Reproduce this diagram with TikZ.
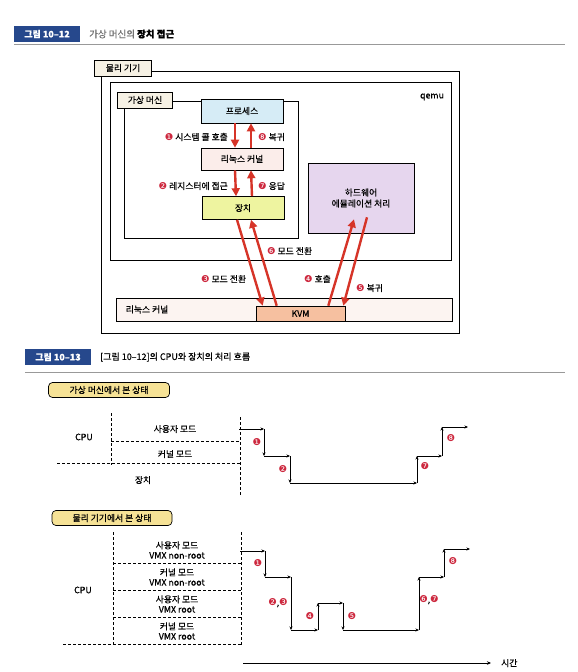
\documentclass[tikz,border=0pt]{standalone}
\usepackage{fontspec}
\setmainfont{Noto Sans CJK KR}[FakeBold=0.6]
\newfontfamily\dingfont{DejaVu Sans}
\usetikzlibrary{positioning,calc,arrows.meta}

\definecolor{figblue}{RGB}{38,72,140}
\definecolor{arrred}{RGB}{214,52,40}
\definecolor{numred}{RGB}{205,40,62}
\definecolor{procfill}{RGB}{214,236,246}
\definecolor{kernfill}{RGB}{251,237,234}
\definecolor{devfill}{RGB}{238,244,160}
\definecolor{hwfill}{RGB}{230,214,238}
\definecolor{kvmfill}{RGB}{246,192,160}
\definecolor{tabfill}{RGB}{246,241,228}
\definecolor{viewfill}{RGB}{246,226,150}
\definecolor{hostfill}{RGB}{252,244,241}

\newcommand{\cnum}[1]{{\dingfont\fontsize{9.5}{10}\selectfont\color{numred}#1}}

\tikzset{
  txt/.style={font=\fontsize{8.8}{10}\selectfont, inner sep=1pt},
  box/.style={draw, line width=0.6pt, txt, minimum width=82pt, minimum height=23pt},
  tab/.style={draw, fill=tabfill, line width=0.6pt, txt, minimum height=16pt, minimum width=57pt},
  figtag/.style={fill=figblue, text=white, font=\fontsize{9}{10}\selectfont\bfseries, minimum width=66pt, minimum height=15pt},
  viewtab/.style={draw, fill=viewfill, rounded corners=4pt, line width=0.7pt, txt, minimum width=121pt, minimum height=15pt},
  redarr/.style={arrred, line width=2.4pt, -{Triangle[length=8pt,width=8pt]}},
  flowarr/.style={line width=0.8pt, -{Stealth[length=3.5pt,width=3pt]}},
  dashline/.style={dash pattern=on 3pt off 2pt, line width=0.6pt}
}

\begin{document}
\begin{tikzpicture}[x=1pt,y=-1pt]
    \useasboundingbox (0,0) rectangle (578,672);
    \fill[white] (0,0) rectangle (578,672);

    % Figure 10-12 title
    \node[figtag] (t12) at (47,34) {그림 10–12};
    \node[txt, anchor=west] (t12txt) at (88,34) {\fontsize{9.5}{10}\selectfont{\color{black!55}가상 머신의} \textbf{장치 접근}};
    \draw[black!40, line width=0.5pt] (14,44) -- (565,44);

    % Physical machine
    \node[draw, line width=0.8pt, minimum width=358pt, minimum height=262pt, anchor=north west] (phys) at (101,71) {};
    \node[tab] (physlbl) at (123,68) {물리 기기};

    % qemu
    \node[draw, line width=0.8pt, minimum width=341pt, minimum height=178pt, anchor=north west] (qemu) at (110,82) {};
    \node[txt] (qemulbl) at (432,97) {qemu};

    % Virtual machine
    \node[draw, line width=0.8pt, minimum width=174pt, minimum height=137pt, anchor=north west] (vm) at (124,101) {};
    \node[tab, minimum width=55pt] (vmlbl) at (145,100) {가상 머신};

    \node[box, fill=procfill, minimum height=24pt] (proc) at (242,111) {프로세스};
    \node[box, fill=kernfill, minimum height=22pt] (vmk) at (242,159) {리눅스 커널};
    \node[box, fill=devfill] (dev) at (243,208) {장치};

    % Hardware emulation
    \node[box, fill=hwfill, minimum width=106pt, minimum height=70pt, align=center] (hw) at (361,198) {하드웨어\\[1pt]에뮬레이션 처리};

    % Host kernel and KVM
    \node[draw, fill=hostfill, line width=0.8pt, minimum width=336pt, minimum height=23pt] (host) at (284,309.5) {};
    \node[txt, anchor=west] (hostlbl) at ($(host.west)+(9,0)$) {리눅스 커널};
    \node[box, fill=kvmfill, minimum width=89pt, minimum height=15pt] (kvm) at (300.5,313.5) {KVM};

    % Calls inside the guest
    \draw[redarr] ([xshift=-7pt]proc.south) -- ([xshift=-7pt]vmk.north);
    \draw[redarr] ([xshift=9pt]vmk.north) -- ([xshift=9pt]proc.south);
    \draw[redarr] ([xshift=-7pt]vmk.south) -- ([xshift=-7pt]dev.north);
    \draw[redarr] ([xshift=9pt]dev.north) -- ([xshift=9pt]vmk.south);

    % Mode switches through KVM
    \draw[redarr] ([xshift=-6pt]dev.south) -- ([xshift=7pt]kvm.north west);
    \draw[redarr] ([xshift=21pt]kvm.north west) -- ([xshift=8pt]dev.south);
    \draw[redarr] ([xshift=-17pt]kvm.north east) -- ([xshift=-7pt,yshift=14pt]hw.south);
    \draw[redarr] ([xshift=6pt,yshift=16pt]hw.south) -- ([xshift=-2pt]kvm.north east);

    \node[txt, anchor=east] (l1) at (229,137) {\cnum{❶} 시스템 콜 호출};
    \node[txt, anchor=west] (l8) at (257,137) {\cnum{❽} 복귀};
    \node[txt, anchor=east] (l2) at (229,186) {\cnum{❷} 레지스터에 접근};
    \node[txt, anchor=west] (l7) at (257,186) {\cnum{❼} 응답};
    \node[txt, anchor=west] (l6) at (266,251) {\cnum{❻} 모드 전환};
    \node[txt, anchor=west] (l3) at (200,279) {\cnum{❸} 모드 전환};
    \node[txt, anchor=west] (l4) at (303,279) {\cnum{❹} 호출};
    \node[txt, anchor=west] (l5) at (355,288) {\cnum{❺} 복귀};

    % Figure 10-13 title
    \node[figtag] (t13) at (58,357) {그림 10–13};
    \node[txt, anchor=west] (t13txt) at (99,357) {\fontsize{9}{10}\selectfont [그림 10–12]의 CPU와 장치의 처리 흐름};
    \draw[black!40, line width=0.5pt] (25,372) -- (565,372);

    % Seen from the virtual machine
    \node[viewtab] (vmview) at (109,390) {가상 머신에서 본 상태};
    \draw[dashline] (111,413) -- (111,465);
    \draw[dashline] (111,441) -- (240,441);
    \draw[dashline] (57,463) -- (240,463);
    \draw[dashline] (240,417) -- (240,495);
    \node[txt] (cpu1) at (84,437) {CPU};
    \node[txt] (um1) at (175,429) {사용자 모드};
    \node[txt] (km1) at (175,454) {커널 모드};
    \node[txt] (dv1) at (143,480) {장치};

    \foreach \n/\x/\y in {0/239/429, 1/264/429, 2/264/456, 3/290/456, 4/290/483,
                          5/417/483, 6/417/456, 7/442/456, 8/442/427, 9/468/427}
        \coordinate (v\n) at (\x,\y);
    \foreach \n [remember=\n as \prev (initially 0)] in {1,...,9}
        \draw[flowarr] (v\prev) -- (v\n);

    \node[txt] at (257,442) {\cnum{❶}};
    \node[txt] at (283,469) {\cnum{❷}};
    \node[txt] at (425,466) {\cnum{❼}};
    \node[txt] at (451,438) {\cnum{❽}};

    % Seen from the physical machine
    \node[viewtab, minimum width=120pt] (hostview) at (112,518) {물리 기기에서 본 상태};
    \draw[dashline] (113,532) -- (113,645);
    \draw[dashline] (241,532) -- (241,645);
    \draw[dashline] (113,563) -- (241,563);
    \draw[dashline] (113,590) -- (241,590);
    \draw[dashline] (113,617) -- (241,617);
    \draw[dashline] (63,644) -- (241,644);
    \node[txt] (cpu2) at (83,590) {CPU};
    \node[txt, align=center] (r1) at (177,550) {사용자 모드\\VMX non-root};
    \node[txt, align=center] (r2) at (177,577) {커널 모드\\VMX non-root};
    \node[txt, align=center] (r3) at (177,604) {사용자 모드\\VMX root};
    \node[txt, align=center] (r4) at (177,631) {커널 모드\\VMX root};

    \foreach \n/\x/\y in {0/240/551, 1/265/551, 2/265/577, 3/291/577, 4/291/630,
                          5/318/630, 6/318/603, 7/343/603, 8/343/630, 9/419/630,
                          10/419/577, 11/444/577, 12/444/549, 13/470/549}
        \coordinate (w\n) at (\x,\y);
    \foreach \n [remember=\n as \prev (initially 0)] in {1,...,13}
        \draw[flowarr] (w\prev) -- (w\n);

    \node[txt] at (258,563) {\cnum{❶}};
    \node[txt] at (278,603) {\cnum{❷},\cnum{❸}};
    \node[txt] at (310,616) {\cnum{❹}};
    \node[txt] at (352,616) {\cnum{❺}};
    \node[txt] at (429,600) {\cnum{❻},\cnum{❼}};
    \node[txt] at (453,561) {\cnum{❽}};

    % Time axis
    \coordinate (t0) at (243,663);
    \node[txt, anchor=west] (tlbl) at (500,663) {시간};
    \draw[line width=0.8pt, -{Stealth[length=4pt,width=3.5pt]}] (t0) -- ([xshift=-9pt]tlbl.west);
\end{tikzpicture}
\end{document}
